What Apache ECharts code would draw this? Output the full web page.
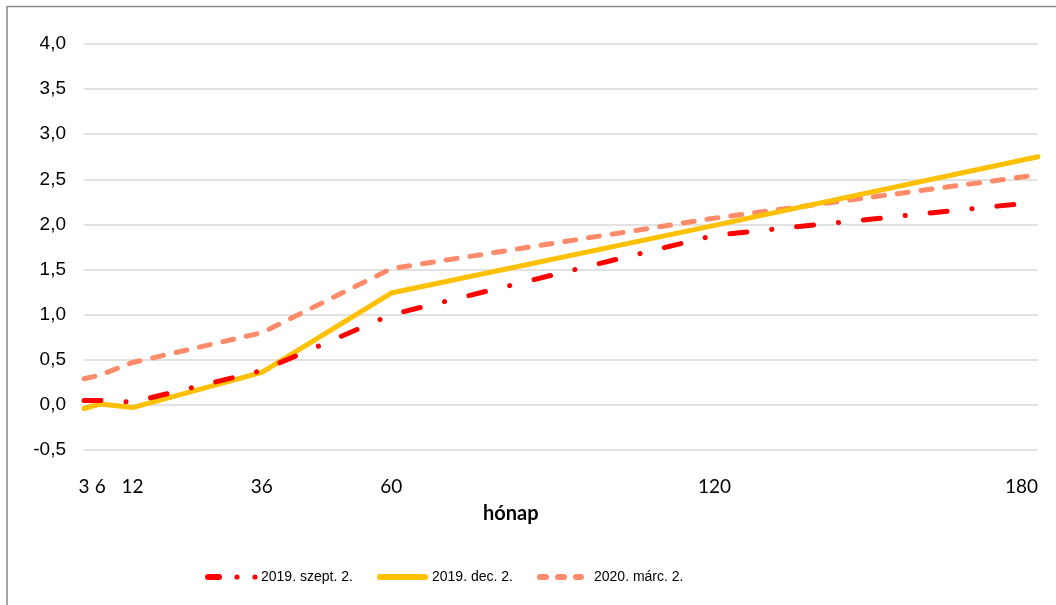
<!DOCTYPE html>
<html>
<head>
<meta charset="utf-8">
<script src="https://cdn.jsdelivr.net/npm/echarts@6/dist/echarts.min.js"></script>
<style>html,body{margin:0;padding:0;background:#fff;}#c{width:1056px;height:605px;}</style>
</head>
<body>
<div id="c"></div>
<script>
const months = [3, 6, 12, 36, 60, 120, 180];
const xTickLabels = [3, 6, 12, 36, 60, 120, 180];
const seriesNames = ['2019. szept. 2.', '2019. dec. 2.', '2020. márc. 2.'];
const sep2019 = [0.05, 0.05, 0.03, 0.38, 1.00, 1.88, 2.25];
const dec2019 = [-0.04, 0.01, -0.03, 0.36, 1.24, 1.99, 2.75];
const mar2020 = [0.29, 0.33, 0.47, 0.80, 1.51, 2.07, 2.55];
const xAxisTitle = 'hónap';

const colors = ['#FF0000', '#FFC000', '#FF8B6A'];
const pairs = v => months.map((m, i) => [m, v[i]]);
const chart = echarts.init(document.getElementById('c'), null, {renderer: 'canvas'});
const legendFont = '14px "Liberation Sans", Arial, sans-serif';
const LY = 577;
chart.setOption({
  animation: false,
  backgroundColor: '#fff',
  grid: {left: 84, right: 18, top: 44, bottom: 155, containLabel: false},
  xAxis: {
    type: 'value', min: 3, max: 180,
    axisLine: {show: false}, axisTick: {show: false}, splitLine: {show: false},
    axisLabel: {
      customValues: xTickLabels, alignMaxLabel: 'right',
      fontFamily: 'Lato, "Open Sans", sans-serif', fontSize: 19, color: '#000', margin: 27
    }
  },
  yAxis: {
    type: 'value', min: -0.5, max: 4.0, interval: 0.5,
    axisLine: {show: false}, axisTick: {show: false},
    splitLine: {lineStyle: {color: '#d9d9d9', width: 1.5}},
    axisLabel: {
      fontFamily: '"Liberation Sans", Arial, sans-serif', fontSize: 19, color: '#000', margin: 18,
      formatter: v => v.toFixed(1).replace('.', ',')
    }
  },
  series: [
    {name: seriesNames[0], type: 'line', data: pairs(sep2019), symbol: 'none', z: 3,
     lineStyle: {color: colors[0], width: 5, type: [17, 25, 0.1, 25], cap: 'round'}},
    {name: seriesNames[1], type: 'line', data: pairs(dec2019), symbol: 'none', z: 2,
     lineStyle: {color: colors[1], width: 5, type: 'solid', cap: 'round'}},
    {name: seriesNames[2], type: 'line', data: pairs(mar2020), symbol: 'none', z: 1,
     lineStyle: {color: colors[2], width: 5, type: [11, 13], cap: 'round'}}
  ],
  graphic: [
    {type: 'polyline', shape: {points: [[7, 605], [7, 6.5], [1056, 6.5]]},
     style: {stroke: '#8a8a8a', lineWidth: 1.5, fill: null}, silent: true},
    {type: 'text', left: 483, top: 504,
     style: {text: xAxisTitle, font: 'bold 20px Lato, "Open Sans", sans-serif', fill: '#000'}},
    // legend
    {type: 'line', shape: {x1: 208, y1: LY, x2: 219, y2: LY},
     style: {stroke: colors[0], lineWidth: 6, lineCap: 'round'}},
    {type: 'circle', shape: {cx: 237, cy: LY, r: 2.6}, style: {fill: colors[0]}},
    {type: 'circle', shape: {cx: 255, cy: LY, r: 2.6}, style: {fill: colors[0]}},
    {type: 'text', x: 261, y: LY, style: {text: seriesNames[0], font: legendFont, fill: '#000', textVerticalAlign: 'middle'}},
    {type: 'line', shape: {x1: 380, y1: LY, x2: 425, y2: LY},
     style: {stroke: colors[1], lineWidth: 6, lineCap: 'round'}},
    {type: 'text', x: 432, y: LY, style: {text: seriesNames[1], font: legendFont, fill: '#000', textVerticalAlign: 'middle'}},
    {type: 'line', shape: {x1: 540, y1: LY, x2: 581, y2: LY},
     style: {stroke: colors[2], lineWidth: 6, lineCap: 'round', lineDash: [6, 12]}},
    {type: 'text', x: 594, y: LY, style: {text: seriesNames[2], font: legendFont, fill: '#000', textVerticalAlign: 'middle'}}
  ]
});
</script>
</body>
</html>
